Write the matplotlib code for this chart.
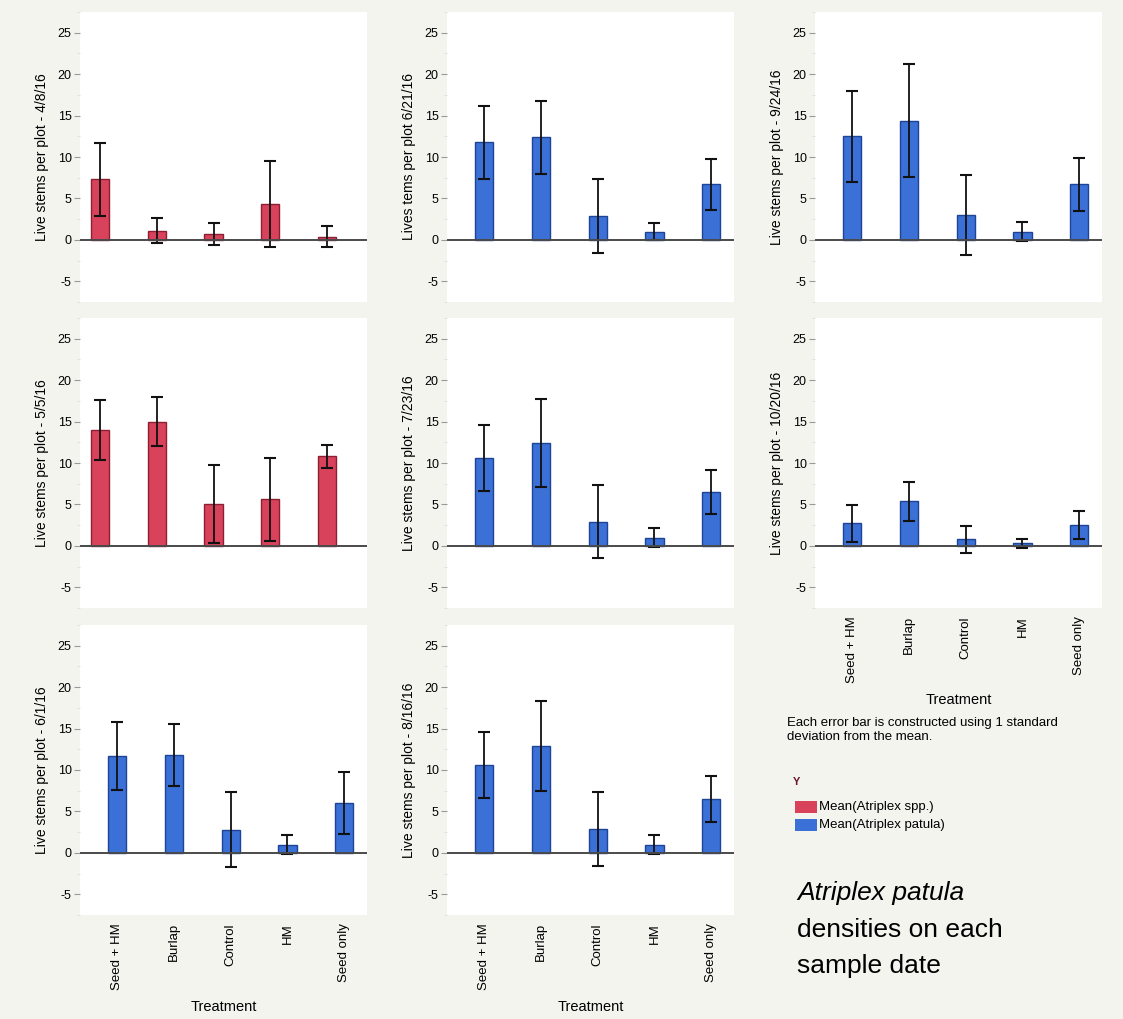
import matplotlib
matplotlib.use("Agg")
import matplotlib.pyplot as plt
from matplotlib.patches import Rectangle

plt.rcParams['font.family'] = ['Liberation Sans', 'DejaVu Sans']
plt.rcParams['axes.unicode_minus'] = False

# treatments
treatments = ["Seed + HM", "Burlap", "Control", "HM", "Seed only"]

# means and standard deviations per sample date
mean_0408 = [7.3, 1.1, 0.7, 4.3, 0.4]
sd_0408 = [4.4, 1.5, 1.3, 5.2, 1.3]

mean_0505 = [14.0, 15.0, 5.1, 5.6, 10.8]
sd_0505 = [3.6, 3.0, 4.7, 5.0, 1.4]

mean_0601 = [11.7, 11.8, 2.8, 1.0, 6.0]
sd_0601 = [4.1, 3.7, 4.5, 1.1, 3.7]

mean_0621 = [11.8, 12.4, 2.9, 1.0, 6.7]
sd_0621 = [4.4, 4.4, 4.5, 1.0, 3.1]

mean_0723 = [10.6, 12.4, 2.9, 1.0, 6.5]
sd_0723 = [4.0, 5.3, 4.4, 1.1, 2.7]

mean_0816 = [10.6, 12.9, 2.9, 1.0, 6.5]
sd_0816 = [4.0, 5.4, 4.5, 1.1, 2.8]

mean_0924 = [12.5, 14.4, 3.0, 1.0, 6.7]
sd_0924 = [5.5, 6.8, 4.8, 1.1, 3.2]

mean_1020 = [2.7, 5.4, 0.8, 0.3, 2.5]
sd_1020 = [2.2, 2.35, 1.65, 0.5, 1.7]

RED, RED_EDGE = "#d8435b", "#8c1f33"
BLUE, BLUE_EDGE = "#3b70d6", "#1d4496"

# (mean, sd, ylabel, color, edge, col, row, show xticks)
panels = [
    (mean_0408, sd_0408, "Live stems per plot - 4/8/16", RED, RED_EDGE, 0, 0, False),
    (mean_0505, sd_0505, "Live stems per plot - 5/5/16", RED, RED_EDGE, 0, 1, False),
    (mean_0601, sd_0601, "Live stems per plot - 6/1/16", BLUE, BLUE_EDGE, 0, 2, True),
    (mean_0621, sd_0621, "Lives tems per plot 6/21/16", BLUE, BLUE_EDGE, 1, 0, False),
    (mean_0723, sd_0723, "Live stems per plot - 7/23/16", BLUE, BLUE_EDGE, 1, 1, False),
    (mean_0816, sd_0816, "Live stems per plot - 8/16/16", BLUE, BLUE_EDGE, 1, 2, True),
    (mean_0924, sd_0924, "Live stems per plot - 9/24/16", BLUE, BLUE_EDGE, 2, 0, False),
    (mean_1020, sd_1020, "Live stems per plot - 10/20/16", BLUE, BLUE_EDGE, 2, 1, True),
]

W, H = 1123, 1019
fig = plt.figure(figsize=(W / 100, H / 100), dpi=100, facecolor="#f4f4ef")

col_left = [80, 447, 815]
row_top = [12, 318, 625]
aw, ah = 287, 290

x = list(range(len(treatments)))

for mean, sd, ylab, color, edge, c, r, show_x in panels:
    ax = fig.add_axes([col_left[c] / W, 1 - (row_top[r] + ah) / H, aw / W, ah / H])
    ax.set_facecolor("white")
    ax.bar(x, mean, width=0.32, color=color, edgecolor=edge, linewidth=1.0, zorder=2)
    ax.errorbar(x, mean, yerr=sd, fmt="none", ecolor="#111111", elinewidth=1.3,
                capsize=4, capthick=1.5, zorder=3)
    ax.axhline(0, color="#4a4a4a", lw=1.4, zorder=4)
    # the two top red panels sit a bit further left in the original
    if c == 0 and r < 2:
        ax.set_xlim(-0.35, 4.7)
    else:
        ax.set_xlim(-0.65, 4.4)
    ax.set_ylim(-7.5, 27.5)
    ax.set_yticks([-5, 0, 5, 10, 15, 20, 25])
    ax.set_yticks([-7.5, -2.5, 2.5, 7.5, 12.5, 17.5, 22.5, 27.5], minor=True)
    ax.tick_params(axis="y", which="major", length=4, color="#999999", labelsize=9, pad=2)
    ax.tick_params(axis="y", which="minor", length=2, color="#dddddd")
    for s in ax.spines.values():
        s.set_visible(False)
    ax.set_ylabel(ylab, fontsize=10, labelpad=6)
    if show_x:
        ax.set_xticks(x)
        ax.set_xticklabels(treatments, rotation=90, fontsize=9.5)
        ax.tick_params(axis="x", length=0, pad=6)
        ax.set_xlabel("Treatment", fontsize=10.5, labelpad=7)
    else:
        ax.set_xticks([])

# notes and legend in the empty corner
fig.text(787 / W, 1 - 730 / H, "Each error bar is constructed using 1 standard\ndeviation from the mean.",
         fontsize=9.5, va="center", ha="left", linespacing=1.25)
fig.text(797 / W, 1 - 782 / H, "Y", fontsize=8, color="#6a1a2a", fontweight="bold",
         va="center", ha="center")
for yy, col, lab in [(807, RED, "Mean(Atriplex spp.)"), (825, BLUE, "Mean(Atriplex patula)")]:
    fig.patches.append(Rectangle((795 / W, 1 - (yy + 6) / H), 22 / W, 12 / H,
                                 transform=fig.transFigure, facecolor=col,
                                 edgecolor="none"))
    fig.text(819 / W, 1 - yy / H, lab, fontsize=9.5, va="center", ha="left")

fig.text(797 / W, 1 - 893 / H, "Atriplex patula", fontsize=19, style="italic",
         va="center", ha="left")
fig.text(797 / W, 1 - 930 / H, "densities on each", fontsize=19, va="center", ha="left")
fig.text(797 / W, 1 - 966 / H, "sample date", fontsize=19, va="center", ha="left")

fig.savefig("out.png", dpi=100, facecolor=fig.get_facecolor())
